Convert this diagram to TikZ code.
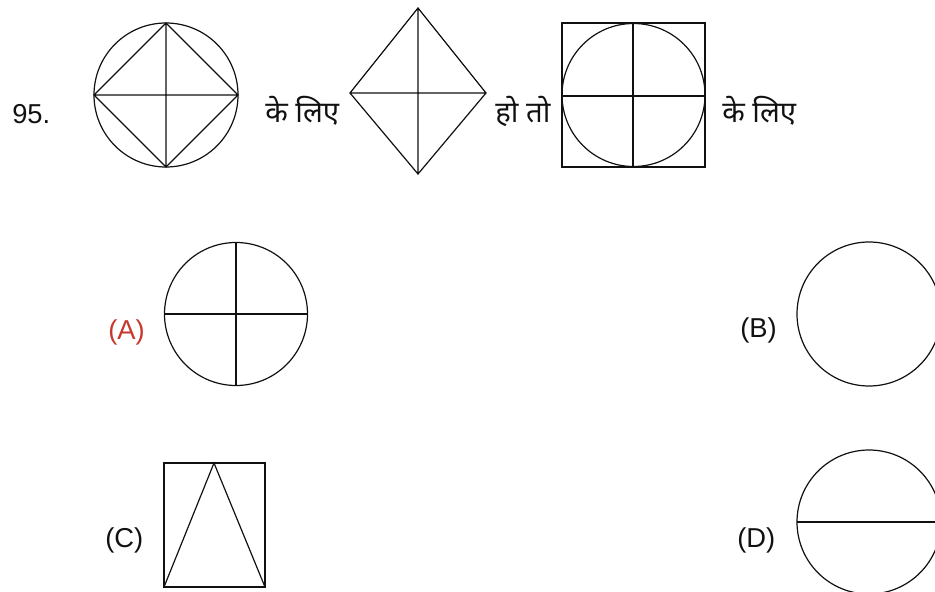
\documentclass[tikz,border=0pt]{standalone}
\usepackage{fontspec}
\setmainfont{Liberation Sans}
\newfontfamily\hindi[Script=Devanagari]{Noto Sans}
\usepackage{xcolor}
\usepackage{tikz}
\usetikzlibrary{positioning}
\definecolor{ink}{HTML}{111111}
\definecolor{optred}{HTML}{C8372D}
\tikzset{
  fig/.style={draw=ink, line width=.9pt},
  lbl/.style={font=\fontsize{20.5}{24}\selectfont, text=ink, inner sep=0pt},
  hin/.style={font=\hindi\fontsize{22}{26}\selectfont, text=ink, inner sep=0pt}
}

\begin{document}
\begin{tikzpicture}[x=.75pt,y=-.75pt]
  \useasboundingbox (0,0) rectangle (935,592);
  \clip (0,0) rectangle (935,592);

  % question row
  \node[lbl,anchor=west] (qno) at (12,114) {95.};

  \coordinate (c1) at (166,95);
  \draw[fig] (c1) circle[radius=72];
  \draw[fig] (94,95) -- (166,23) -- (238,95) -- (166,167) -- cycle
    (94,95) -- (238,95) (166,23) -- (166,167);

  \node[hin,anchor=west] (for1) at (265,111) {के लिए};

  \draw[fig] (418,8) -- (486,93) -- (418,174) -- (350,93) -- cycle
    (350,93) -- (486,93) (418,8) -- (418,174);

  \node[hin,anchor=west] (then) at (495,111) {हो तो};

  \coordinate (c3) at (633.5,95);
  \draw[fig] (562,23) rectangle (705,167);
  \draw[fig] (c3) circle[radius=71.5];
  \draw[fig] (562,96) -- (705,96) (633,23) -- (633,167);

  \node[hin,anchor=west] (for2) at (722,111) {के लिए};

  % options
  \node[lbl,text=optred,anchor=west] (optA) at (108,332) {(A)};
  \draw[fig] (236,314) circle[radius=71.5];
  \draw[fig] (164.5,314) -- (307.5,314) (236,242.5) -- (236,385.5);

  \node[lbl,anchor=west] (optB) at (740,330) {(B)};
  \draw[fig] (869,314) circle[radius=72];

  \node[lbl,anchor=west] (optC) at (105,540) {(C)};
  \draw[fig] (164,463) rectangle (265,587);
  \draw[fig] (164,587) -- (214,463) -- (265,587);

  \node[lbl,anchor=west] (optD) at (737,540) {(D)};
  \draw[fig] (869,522) circle[radius=72];
  \draw[fig] (797,522) -- (941,522);
\end{tikzpicture}
\end{document}
